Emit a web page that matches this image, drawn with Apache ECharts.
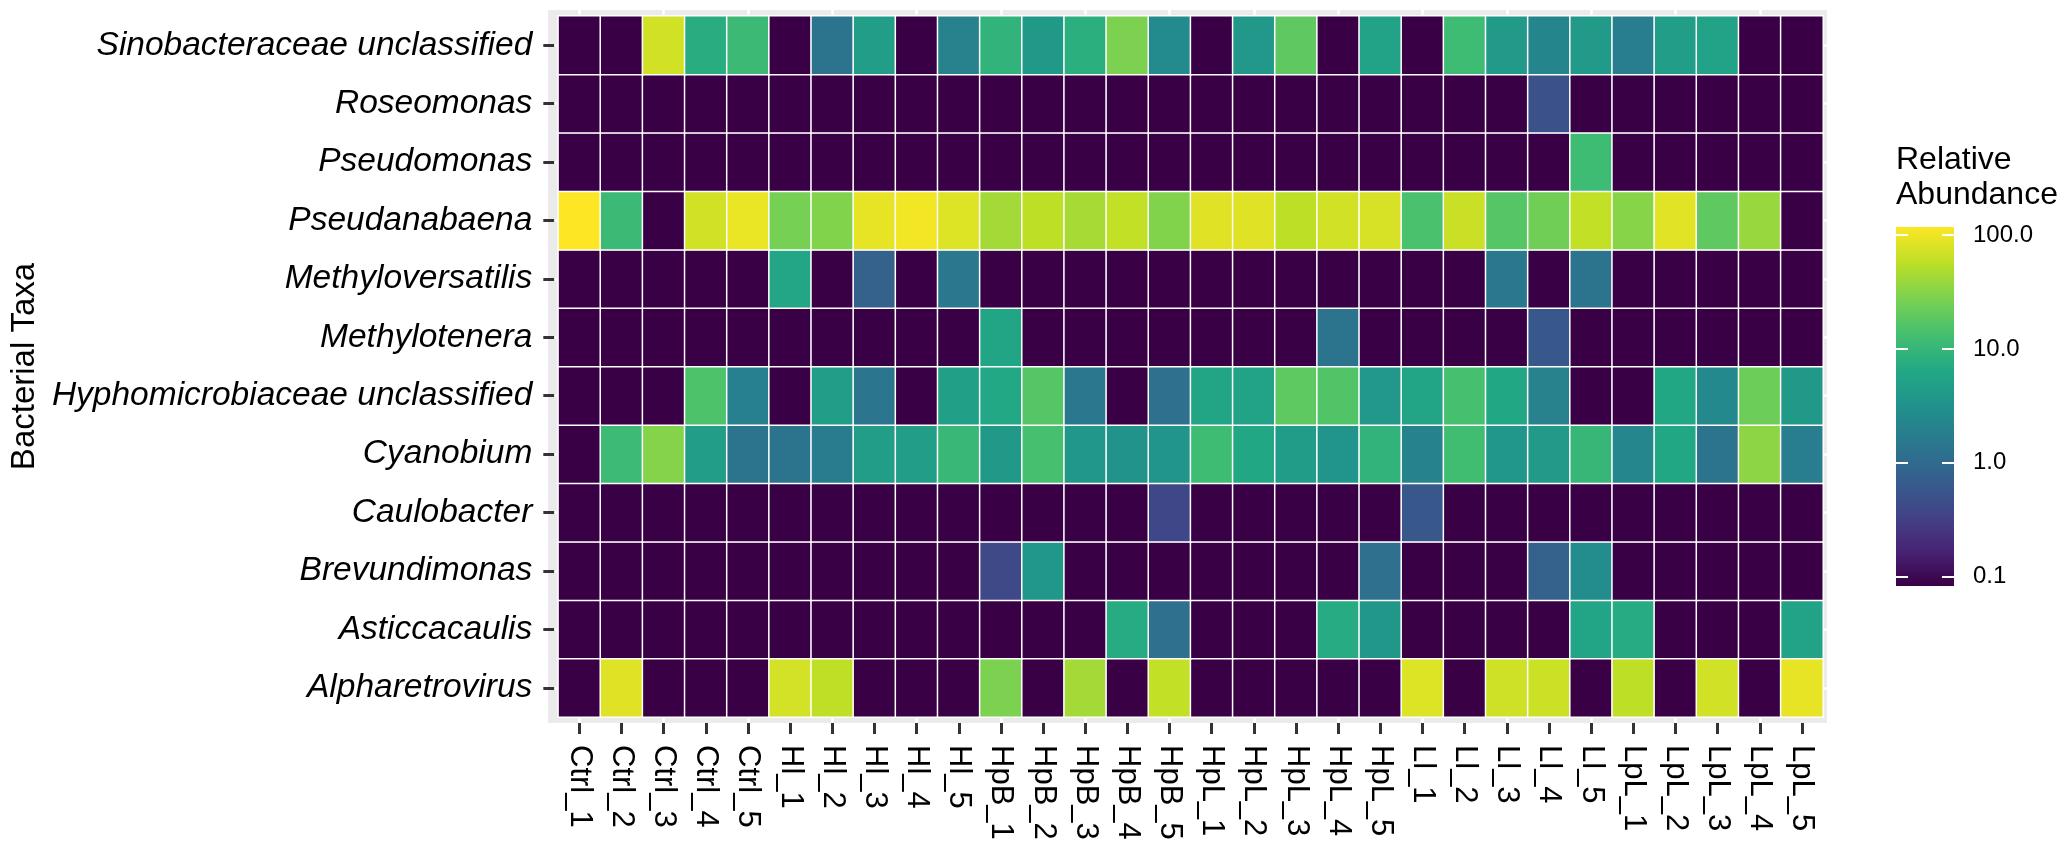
<!DOCTYPE html>
<html>
<head>
<meta charset="utf-8">
<title>Bacterial Taxa - Relative Abundance</title>
<script src="https://cdn.jsdelivr.net/npm/echarts@6/dist/echarts.min.js"></script>
<style>
  html, body { margin: 0; padding: 0; background: #fff; }
  #chart { width: 2065px; height: 849px; }
</style>
</head>
<body>
<div id="chart"></div>
<script>
"use strict";

// samples on the x axis
var samples = [
  "Ctrl_1", "Ctrl_2", "Ctrl_3", "Ctrl_4", "Ctrl_5",
  "Hl_1", "Hl_2", "Hl_3", "Hl_4", "Hl_5",
  "HpB_1", "HpB_2", "HpB_3", "HpB_4", "HpB_5",
  "HpL_1", "HpL_2", "HpL_3", "HpL_4", "HpL_5",
  "Ll_1", "Ll_2", "Ll_3", "Ll_4", "Ll_5",
  "LpL_1", "LpL_2", "LpL_3", "LpL_4", "LpL_5"
];

// taxa, bottom to top (category axis starts at the bottom)
var taxa = [
  "Alpharetrovirus", "Asticcacaulis", "Brevundimonas", "Caulobacter",
  "Cyanobium", "Hyphomicrobiaceae unclassified", "Methylotenera",
  "Methyloversatilis", "Pseudanabaena", "Pseudomonas", "Roseomonas",
  "Sinobacteraceae unclassified"
];

// relative abundance per taxon, one value per sample (0 = not detected)
var alpharetrovirus = [0, 85, 0, 0, 0, 73, 58, 0, 0, 0, 28, 0, 43, 0, 60, 0, 0, 0, 0, 0, 82, 0, 69, 66, 0, 57, 0, 71, 0, 92];
var asticcacaulis = [0, 0, 0, 0, 0, 0, 0, 0, 0, 0, 0, 0, 0, 7, 1.2, 0, 0, 0, 7, 3.8, 0, 0, 0, 0, 5.6, 7, 0, 0, 0, 5.3];
var brevundimonas = [0, 0, 0, 0, 0, 0, 0, 0, 0, 0, 0.4, 3.8, 0, 0, 0, 0, 0, 0, 0, 1.2, 0, 0, 0, 0.8, 2.7, 0, 0, 0, 0, 0];
var caulobacter = [0, 0, 0, 0, 0, 0, 0, 0, 0, 0, 0, 0, 0, 0, 0.38, 0, 0, 0, 0, 0, 0.6, 0, 0, 0, 0, 0, 0, 0, 0, 0];
var cyanobium = [0, 11.5, 31, 4.5, 1.3, 1.3, 1.7, 4.5, 4.5, 10.5, 4, 13.6, 3.8, 3.3, 3.5, 12, 6.2, 4.4, 3.5, 9, 2.1, 12.5, 3.6, 4.1, 10, 2.3, 6.2, 1.3, 34, 1.8];
var hyphomicrobiaceae = [0, 0, 0, 15, 1.9, 0, 4.5, 1.4, 0, 5, 6.5, 17, 1.5, 0, 1.2, 5.8, 5.3, 19, 16, 3.9, 5.6, 13.6, 6.3, 2.0, 0, 0, 6.2, 2.5, 23, 4];
var methylotenera = [0, 0, 0, 0, 0, 0, 0, 0, 0, 0, 5.8, 0, 0, 0, 0, 0, 0, 0, 1.3, 0, 0, 0, 0, 0.6, 0, 0, 0, 0, 0, 0];
var methyloversatilis = [0, 0, 0, 0, 0, 6, 0, 0.8, 0, 1.5, 0, 0, 0, 0, 0, 0, 0, 0, 0, 0, 0, 0, 1.5, 0, 1.3, 0, 0, 0, 0, 0];
var pseudanabaena = [117, 11, 0, 71, 95, 26, 30, 92, 105, 82, 43, 57, 45, 60, 30, 85, 85, 57, 71, 76, 14.5, 65, 17, 24, 60, 32, 86, 19.5, 38, 0];
var pseudomonas = [0, 0, 0, 0, 0, 0, 0, 0, 0, 0, 0, 0, 0, 0, 0, 0, 0, 0, 0, 0, 0, 0, 0, 0, 12, 0, 0, 0, 0, 0];
var roseomonas = [0, 0, 0, 0, 0, 0, 0, 0, 0, 0, 0, 0, 0, 0, 0, 0, 0, 0, 0, 0, 0, 0, 0, 0.5, 0, 0, 0, 0, 0, 0];
var sinobacteraceae = [0, 0, 71, 7.5, 11, 0, 1.3, 4.5, 0, 2.0, 9, 4, 8, 28, 2.6, 0, 3.9, 19.5, 0, 5.3, 0, 12, 4.2, 2.2, 4.1, 1.8, 4.5, 5.3, 0, 0];

var abundance = [
  alpharetrovirus, asticcacaulis, brevundimonas, caulobacter, cyanobium,
  hyphomicrobiaceae, methylotenera, methyloversatilis, pseudanabaena,
  pseudomonas, roseomonas, sinobacteraceae
];

// colour bar breaks and limits (log10 scale)
var legendBreaks = [0.1, 1, 10, 100];
var scaleMin = 0.083;
var scaleMax = 117.5;

// viridis, bottom stop a touch darker to match the picture
var viridis = ["#3A0046", "#482475", "#414487", "#355F8D", "#2A788E", "#21918C",
  "#22A884", "#44BF70", "#7AD151", "#BDDF26", "#FDE725"];

var FONT = "Liberation Sans, Arial, sans-serif";
var lgMin = Math.log10(scaleMin);
var lgMax = Math.log10(scaleMax);

function buildCells() {
  var cells = [];
  abundance.forEach(function (row, yi) {
    row.forEach(function (v, xi) {
      // not detected -> bottom of the colour scale
      var lg = Math.log10(Math.max(v, scaleMin));
      cells.push([xi, yi, lg, v]);
    });
  });
  return cells;
}

function barGradient() {
  var stops = viridis.map(function (c, i) {
    return { offset: 1 - i / (viridis.length - 1), color: c };
  });
  stops.reverse();
  return new echarts.graphic.LinearGradient(0, 0, 0, 1, stops);
}

var chart = echarts.init(document.getElementById("chart"), null, { renderer: "canvas" });

var whiteTick = { show: true, alignWithLabel: true, length: 6, lineStyle: { color: "#ffffff", width: 2.5 } };
var darkTick = { show: true, alignWithLabel: true, length: 11, lineStyle: { color: "#333333", width: 3 } };
var breakLogs = legendBreaks.map(function (b) { return Math.log10(b); });

var option = {
  backgroundColor: "#ffffff",
  animation: false,
  title: {
    text: "Relative\nAbundance",
    left: 1896,
    top: 143,
    padding: 0,
    textStyle: { fontFamily: FONT, fontSize: 32, fontWeight: "normal", color: "#000", lineHeight: 35 }
  },
  grid: [
    // grey panel (includes the discrete-axis expansion)
    { left: 548, top: 10, width: 1279, height: 713, show: true, backgroundColor: "#EBEBEB", borderWidth: 0 },
    // tiles
    { left: 552, top: 16, width: 1271, height: 701, show: false },
    // colour bar
    { left: 1896, top: 227, width: 58, height: 359, show: true, backgroundColor: barGradient(), borderWidth: 0 }
  ],
  xAxis: [
    {
      type: "category", gridIndex: 1, data: samples, position: "bottom", offset: 6,
      axisLine: { show: false }, axisTick: darkTick, splitLine: { show: false },
      axisLabel: { rotate: -90, margin: 22, fontSize: 31, fontFamily: FONT, color: "#000", interval: 0 }
    },
    {
      type: "category", gridIndex: 1, data: samples, position: "bottom", offset: 0,
      axisLine: { show: false }, axisTick: whiteTick, axisLabel: { show: false }, splitLine: { show: false }
    },
    {
      type: "category", gridIndex: 1, data: samples, position: "top", offset: 0,
      axisLine: { show: false }, axisTick: whiteTick, axisLabel: { show: false }, splitLine: { show: false }
    },
    { type: "category", gridIndex: 2, data: [""], show: false }
  ],
  yAxis: [
    {
      type: "category", gridIndex: 1, data: taxa, position: "left", offset: 4,
      axisLine: { show: false }, axisTick: darkTick, splitLine: { show: false },
      axisLabel: { margin: 22, fontSize: 33.5, fontStyle: "italic", fontFamily: FONT, color: "#000", interval: 0 },
      name: "Bacterial Taxa", nameLocation: "middle", nameGap: 510, nameRotate: 90,
      nameTextStyle: { fontFamily: FONT, fontSize: 33, color: "#000" }
    },
    {
      type: "category", gridIndex: 1, data: taxa, position: "left", offset: 0,
      axisLine: { show: false }, axisTick: { show: true, alignWithLabel: true, length: 4, lineStyle: { color: "#ffffff", width: 2.5 } },
      axisLabel: { show: false }, splitLine: { show: false }
    },
    {
      type: "category", gridIndex: 1, data: taxa, position: "right", offset: 0,
      axisLine: { show: false }, axisTick: { show: true, alignWithLabel: true, length: 4, lineStyle: { color: "#ffffff", width: 2.5 } },
      axisLabel: { show: false }, splitLine: { show: false }
    },
    {
      type: "value", gridIndex: 2, min: lgMin, max: lgMax, position: "left",
      axisLine: { show: false }, splitLine: { show: false }, axisLabel: { show: false },
      axisTick: { show: true, inside: true, length: 12, customValues: breakLogs, lineStyle: { color: "#ffffff", width: 2 } }
    },
    {
      type: "value", gridIndex: 2, min: lgMin, max: lgMax, position: "right",
      axisLine: { show: false }, splitLine: { show: false },
      axisTick: { show: true, inside: true, length: 12, customValues: breakLogs, lineStyle: { color: "#ffffff", width: 2 } },
      axisLabel: {
        show: true, inside: false, margin: 19, customValues: breakLogs,
        fontSize: 24, fontFamily: FONT, color: "#000",
        formatter: function (v) { return Math.pow(10, v).toFixed(1); }
      }
    }
  ],
  visualMap: {
    type: "continuous",
    show: false,
    seriesIndex: 0,
    dimension: 2,
    min: lgMin,
    max: lgMax,
    inRange: { color: viridis }
  },
  series: [{
    type: "heatmap",
    xAxisIndex: 0,
    yAxisIndex: 0,
    data: buildCells(),
    itemStyle: { borderColor: "#ffffff", borderWidth: 1.5 },
    emphasis: { disabled: true }
  }]
};

chart.setOption(option);
</script>
</body>
</html>
